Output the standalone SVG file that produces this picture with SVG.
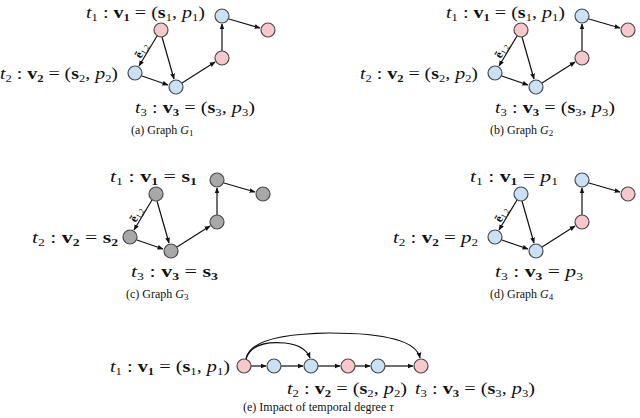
<svg xmlns="http://www.w3.org/2000/svg" width="640" height="418" viewBox="0 0 640 418">
<style>
text{font-family:"Liberation Serif","DejaVu Serif",serif;fill:#111}
.l{font-size:16px}.c{font-size:12px}
.p{fill:#f7c8cb;stroke:#4a4a4a;stroke-width:1.2}
.b{fill:#c9e1f7;stroke:#4a4a4a;stroke-width:1.2}
.g{fill:#a8a8a8;stroke:#4a4a4a;stroke-width:1.2}
.e{stroke:#111;stroke-width:1.2;fill:none;marker-end:url(#a)}
</style>
<defs>
<marker id="a" viewBox="0 0 10 10" refX="9" refY="5" markerWidth="5" markerHeight="5" orient="auto"><path d="M0,1L10,5L0,9z" fill="#111"/></marker>
<g id="edges">
<line x1="157" y1="36" x2="139" y2="66"/>
<line x1="162" y1="37" x2="174" y2="79"/>
<line x1="142" y1="76" x2="168" y2="85"/>
<line x1="182" y1="83" x2="215" y2="62"/>
<line x1="222" y1="51" x2="222" y2="24"/>
<line x1="229" y1="19" x2="260" y2="28"/>
</g>
</defs>
<g id="connectors">
<use href="#edges" class="e"/>
<use href="#edges" class="e" transform="translate(360,0)"/>
<use href="#edges" class="e" transform="translate(-5,164)"/>
<use href="#edges" class="e" transform="translate(360,164)"/>
<line class="e" x1="251" y1="366" x2="266" y2="366"/>
<line class="e" x1="281" y1="366" x2="303" y2="366"/>
<line class="e" x1="318" y1="366" x2="340" y2="366"/>
<line class="e" x1="355" y1="366" x2="370" y2="366"/>
<line class="e" x1="385" y1="366" x2="413" y2="366"/>
<path class="e" d="M246,359 Q252,340 285,343 Q305,345 310,358"/>
<path class="e" d="M246,359 Q250,334 330,333 Q415,333 420,358"/>
</g>
<g id="g1">
<circle class="p" cx="161" cy="30" r="7"/><circle class="b" cx="135" cy="73" r="7"/><circle class="b" cx="176" cy="87" r="7"/>
<circle class="p" cx="222" cy="58" r="7"/><circle class="b" cx="222" cy="16" r="7"/><circle class="p" cx="268" cy="30" r="7"/>
<text class="l" x="86" y="18" textLength="119" lengthAdjust="spacingAndGlyphs"><tspan font-style="italic">t</tspan><tspan font-size="10" dy="3">1</tspan><tspan dy="-3"> : </tspan><tspan font-weight="bold">v</tspan><tspan font-size="10" font-weight="bold" dy="3">1</tspan><tspan dy="-3"> = (</tspan><tspan font-weight="bold">s</tspan><tspan font-size="10" dy="3">1</tspan><tspan dy="-3">, </tspan><tspan font-style="italic">p</tspan><tspan font-size="10" dy="3">1</tspan><tspan dy="-3">)</tspan></text>
<text class="l" x="0" y="79" textLength="118" lengthAdjust="spacingAndGlyphs"><tspan font-style="italic">t</tspan><tspan font-size="10" dy="3">2</tspan><tspan dy="-3"> : </tspan><tspan font-weight="bold">v</tspan><tspan font-size="10" font-weight="bold" dy="3">2</tspan><tspan dy="-3"> = (</tspan><tspan font-weight="bold">s</tspan><tspan font-size="10" dy="3">2</tspan><tspan dy="-3">, </tspan><tspan font-style="italic">p</tspan><tspan font-size="10" dy="3">2</tspan><tspan dy="-3">)</tspan></text>
<text class="l" x="135" y="113" textLength="120" lengthAdjust="spacingAndGlyphs"><tspan font-style="italic">t</tspan><tspan font-size="10" dy="3">3</tspan><tspan dy="-3"> : </tspan><tspan font-weight="bold">v</tspan><tspan font-size="10" font-weight="bold" dy="3">3</tspan><tspan dy="-3"> = (</tspan><tspan font-weight="bold">s</tspan><tspan font-size="10" dy="3">3</tspan><tspan dy="-3">, </tspan><tspan font-style="italic">p</tspan><tspan font-size="10" dy="3">3</tspan><tspan dy="-3">)</tspan></text>
<text class="c" transform="translate(141,59) rotate(-62)"><tspan font-weight="bold">ẽ</tspan><tspan font-size="8" dy="2">1,2</tspan></text>
<text class="c" x="131" y="134">(a) Graph <tspan font-style="italic">G</tspan><tspan font-size="9" dy="2">1</tspan></text>
</g>
<g id="g2">
<circle class="p" cx="521" cy="30" r="7"/><circle class="b" cx="495" cy="73" r="7"/><circle class="b" cx="536" cy="87" r="7"/>
<circle class="p" cx="582" cy="58" r="7"/><circle class="b" cx="582" cy="16" r="7"/><circle class="p" cx="628" cy="30" r="7"/>
<text class="l" x="446" y="18" textLength="119" lengthAdjust="spacingAndGlyphs"><tspan font-style="italic">t</tspan><tspan font-size="10" dy="3">1</tspan><tspan dy="-3"> : </tspan><tspan font-weight="bold">v</tspan><tspan font-size="10" font-weight="bold" dy="3">1</tspan><tspan dy="-3"> = (</tspan><tspan font-weight="bold">s</tspan><tspan font-size="10" dy="3">1</tspan><tspan dy="-3">, </tspan><tspan font-style="italic">p</tspan><tspan font-size="10" dy="3">1</tspan><tspan dy="-3">)</tspan></text>
<text class="l" x="360" y="79" textLength="118" lengthAdjust="spacingAndGlyphs"><tspan font-style="italic">t</tspan><tspan font-size="10" dy="3">2</tspan><tspan dy="-3"> : </tspan><tspan font-weight="bold">v</tspan><tspan font-size="10" font-weight="bold" dy="3">2</tspan><tspan dy="-3"> = (</tspan><tspan font-weight="bold">s</tspan><tspan font-size="10" dy="3">2</tspan><tspan dy="-3">, </tspan><tspan font-style="italic">p</tspan><tspan font-size="10" dy="3">2</tspan><tspan dy="-3">)</tspan></text>
<text class="l" x="495" y="113" textLength="120" lengthAdjust="spacingAndGlyphs"><tspan font-style="italic">t</tspan><tspan font-size="10" dy="3">3</tspan><tspan dy="-3"> : </tspan><tspan font-weight="bold">v</tspan><tspan font-size="10" font-weight="bold" dy="3">3</tspan><tspan dy="-3"> = (</tspan><tspan font-weight="bold">s</tspan><tspan font-size="10" dy="3">3</tspan><tspan dy="-3">, </tspan><tspan font-style="italic">p</tspan><tspan font-size="10" dy="3">3</tspan><tspan dy="-3">)</tspan></text>
<text class="c" transform="translate(501,59) rotate(-62)"><tspan font-weight="bold">ẽ</tspan><tspan font-size="8" dy="2">1,2</tspan></text>
<text class="c" x="490" y="134">(b) Graph <tspan font-style="italic">G</tspan><tspan font-size="9" dy="2">2</tspan></text>
</g>
<g id="g3">
<circle class="g" cx="156" cy="194" r="7"/><circle class="g" cx="130" cy="237" r="7"/><circle class="g" cx="171" cy="251" r="7"/>
<circle class="g" cx="217" cy="222" r="7"/><circle class="g" cx="217" cy="180" r="7"/><circle class="g" cx="263" cy="194" r="7"/>
<text class="l" x="110" y="182" textLength="87" lengthAdjust="spacingAndGlyphs"><tspan font-style="italic">t</tspan><tspan font-size="10" dy="3">1</tspan><tspan dy="-3"> : </tspan><tspan font-weight="bold">v</tspan><tspan font-size="10" font-weight="bold" dy="3">1</tspan><tspan dy="-3"> = </tspan><tspan font-weight="bold">s</tspan><tspan font-size="10" font-weight="bold" dy="3">1</tspan></text>
<text class="l" x="32" y="243" textLength="86" lengthAdjust="spacingAndGlyphs"><tspan font-style="italic">t</tspan><tspan font-size="10" dy="3">2</tspan><tspan dy="-3"> : </tspan><tspan font-weight="bold">v</tspan><tspan font-size="10" font-weight="bold" dy="3">2</tspan><tspan dy="-3"> = </tspan><tspan font-weight="bold">s</tspan><tspan font-size="10" font-weight="bold" dy="3">2</tspan></text>
<text class="l" x="131" y="277" textLength="87" lengthAdjust="spacingAndGlyphs"><tspan font-style="italic">t</tspan><tspan font-size="10" dy="3">3</tspan><tspan dy="-3"> : </tspan><tspan font-weight="bold">v</tspan><tspan font-size="10" font-weight="bold" dy="3">3</tspan><tspan dy="-3"> = </tspan><tspan font-weight="bold">s</tspan><tspan font-size="10" font-weight="bold" dy="3">3</tspan></text>
<text class="c" transform="translate(136,223) rotate(-62)"><tspan font-weight="bold">ẽ</tspan><tspan font-size="8" dy="2">1,2</tspan></text>
<text class="c" x="126" y="298">(c) Graph <tspan font-style="italic">G</tspan><tspan font-size="9" dy="2">3</tspan></text>
</g>
<g id="g4">
<circle class="b" cx="521" cy="194" r="7"/><circle class="b" cx="495" cy="237" r="7"/><circle class="b" cx="536" cy="251" r="7"/>
<circle class="p" cx="582" cy="222" r="7"/><circle class="b" cx="582" cy="180" r="7"/><circle class="p" cx="628" cy="194" r="7"/>
<text class="l" x="470" y="182" textLength="88" lengthAdjust="spacingAndGlyphs"><tspan font-style="italic">t</tspan><tspan font-size="10" dy="3">1</tspan><tspan dy="-3"> : </tspan><tspan font-weight="bold">v</tspan><tspan font-size="10" font-weight="bold" dy="3">1</tspan><tspan dy="-3"> = </tspan><tspan font-style="italic">p</tspan><tspan font-size="10" dy="3">1</tspan></text>
<text class="l" x="393" y="243" textLength="85" lengthAdjust="spacingAndGlyphs"><tspan font-style="italic">t</tspan><tspan font-size="10" dy="3">2</tspan><tspan dy="-3"> : </tspan><tspan font-weight="bold">v</tspan><tspan font-size="10" font-weight="bold" dy="3">2</tspan><tspan dy="-3"> = </tspan><tspan font-style="italic">p</tspan><tspan font-size="10" dy="3">2</tspan></text>
<text class="l" x="495" y="277" textLength="88" lengthAdjust="spacingAndGlyphs"><tspan font-style="italic">t</tspan><tspan font-size="10" dy="3">3</tspan><tspan dy="-3"> : </tspan><tspan font-weight="bold">v</tspan><tspan font-size="10" font-weight="bold" dy="3">3</tspan><tspan dy="-3"> = </tspan><tspan font-style="italic">p</tspan><tspan font-size="10" dy="3">3</tspan></text>
<text class="c" transform="translate(501,223) rotate(-62)"><tspan font-weight="bold">ẽ</tspan><tspan font-size="8" dy="2">1,2</tspan></text>
<text class="c" x="490" y="298">(d) Graph <tspan font-style="italic">G</tspan><tspan font-size="9" dy="2">4</tspan></text>
</g>
<g id="g5">
<circle class="p" cx="244" cy="366" r="7"/><circle class="b" cx="274" cy="366" r="7"/><circle class="b" cx="311" cy="366" r="7"/>
<circle class="p" cx="348" cy="366" r="7"/><circle class="b" cx="378" cy="366" r="7"/><circle class="p" cx="421" cy="366" r="7"/>
<text class="l" x="110" y="372" textLength="120" lengthAdjust="spacingAndGlyphs"><tspan font-style="italic">t</tspan><tspan font-size="10" dy="3">1</tspan><tspan dy="-3"> : </tspan><tspan font-weight="bold">v</tspan><tspan font-size="10" font-weight="bold" dy="3">1</tspan><tspan dy="-3"> = (</tspan><tspan font-weight="bold">s</tspan><tspan font-size="10" dy="3">1</tspan><tspan dy="-3">, </tspan><tspan font-style="italic">p</tspan><tspan font-size="10" dy="3">1</tspan><tspan dy="-3">)</tspan></text>
<text class="l" x="287" y="394" textLength="120" lengthAdjust="spacingAndGlyphs"><tspan font-style="italic">t</tspan><tspan font-size="10" dy="3">2</tspan><tspan dy="-3"> : </tspan><tspan font-weight="bold">v</tspan><tspan font-size="10" font-weight="bold" dy="3">2</tspan><tspan dy="-3"> = (</tspan><tspan font-weight="bold">s</tspan><tspan font-size="10" dy="3">2</tspan><tspan dy="-3">, </tspan><tspan font-style="italic">p</tspan><tspan font-size="10" dy="3">2</tspan><tspan dy="-3">)</tspan></text>
<text class="l" x="415" y="394" textLength="120" lengthAdjust="spacingAndGlyphs"><tspan font-style="italic">t</tspan><tspan font-size="10" dy="3">3</tspan><tspan dy="-3"> : </tspan><tspan font-weight="bold">v</tspan><tspan font-size="10" font-weight="bold" dy="3">3</tspan><tspan dy="-3"> = (</tspan><tspan font-weight="bold">s</tspan><tspan font-size="10" dy="3">3</tspan><tspan dy="-3">, </tspan><tspan font-style="italic">p</tspan><tspan font-size="10" dy="3">3</tspan><tspan dy="-3">)</tspan></text>
<text class="c" x="243" y="411">(e) Impact of temporal degree <tspan font-style="italic">τ</tspan></text>
</g>
</svg>
